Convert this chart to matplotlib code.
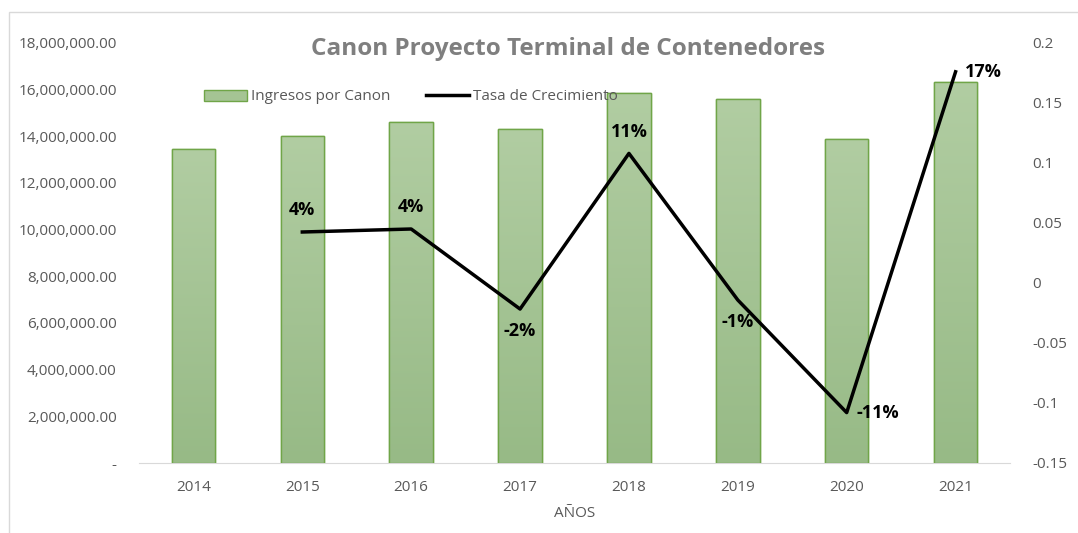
import matplotlib
matplotlib.use("Agg")
import matplotlib.pyplot as plt
import numpy as np
from matplotlib.ticker import FuncFormatter, MultipleLocator
from matplotlib.patches import Rectangle
from matplotlib.lines import Line2D
from matplotlib.colors import LinearSegmentedColormap

years = ["2014", "2015", "2016", "2017", "2018", "2019", "2020", "2021"]
ingresos = [13440000, 14000000, 14630000, 14310000, 15850000, 15610000, 13890000, 16320000]
growth_years = ["2015", "2016", "2017", "2018", "2019", "2020", "2021"]
tasa = [0.0425, 0.045, -0.0217, 0.108, -0.0142, -0.108, 0.176]
tasa_labels = ["4%", "4%", "-2%", "11%", "-1%", "-11%", "17%"]

plt.rcParams['font.family'] = ['Open Sans', 'DejaVu Sans']
GRAY = "#7f7f7f"
TICK = "#595959"

fig = plt.figure(figsize=(10.78, 5.33), dpi=100)
fig.patches.append(Rectangle((9/1078, -0.1), 1.2, 1 - 12/533 + 0.1, transform=fig.transFigure,
                             fill=False, edgecolor="#d9d9d9", linewidth=1.0))
ax = fig.add_axes([139/1078, 1 - 463/533, (1010 - 139)/1078, (463 - 43)/533])
ax2 = ax.twinx()

x = np.arange(len(years))
bars = ax.bar(x, ingresos, width=0.4, color="#a5c494", edgecolor="#70a548", linewidth=1.0, zorder=2)
cmap = LinearSegmentedColormap.from_list("g", ["#97ba86", "#b1cda2"])
grad = np.linspace(0, 1, 256).reshape(-1, 1)
for b in bars:
    bx, by = b.get_x(), b.get_y()
    w, h = b.get_width(), b.get_height()
    im = ax.imshow(grad, cmap=cmap, origin="lower", aspect="auto",
                   extent=[bx, bx + w, by, by + h], zorder=2.5)
    im.set_clip_path(b)
    ax.add_patch(Rectangle((bx, by), w, h, fill=False, edgecolor="#70a548", linewidth=1.0, zorder=3))

ax.set_xlim(-0.5, len(years) - 0.5)
ax.set_ylim(0, 18000000)
ax.yaxis.set_major_locator(MultipleLocator(2000000))
ax.yaxis.set_major_formatter(FuncFormatter(lambda v, p: "-" if v == 0 else f"{v:,.2f}"))
ax.set_xticks(x)
ax.set_xticklabels(years)

gx = [years.index(y) for y in growth_years]
ax2.plot(gx, tasa, color="black", linewidth=2.5, zorder=5)
ax2.set_ylim(-0.15, 0.2)
ax2.yaxis.set_major_locator(MultipleLocator(0.05))
ax2.yaxis.set_major_formatter(FuncFormatter(lambda v, p: f"{round(v, 2):g}"))

placements = ["above", "above", "below", "above", "below", "right", "right"]
for xi, v, lab, pl in zip(gx, tasa, tasa_labels, placements):
    if pl == "above":
        ax2.annotate(lab, (xi, v), xytext=(0, 9), textcoords="offset points",
                     ha="center", va="bottom", fontsize=13, fontweight="bold", color="black")
    elif pl == "below":
        ax2.annotate(lab, (xi, v), xytext=(0, -9), textcoords="offset points",
                     ha="center", va="top", fontsize=13, fontweight="bold", color="black")
    else:
        ax2.annotate(lab, (xi, v), xytext=(7, 0), textcoords="offset points",
                     ha="left", va="center", fontsize=13, fontweight="bold", color="black")

for a in (ax, ax2):
    for s in ("top", "left", "right"):
        a.spines[s].set_visible(False)
    a.spines["bottom"].set_color("#d9d9d9")
    a.tick_params(length=0, colors=TICK, labelsize=11)
ax2.spines["bottom"].set_visible(False)
ax.tick_params(axis="y", pad=16)
ax.tick_params(axis="x", pad=12)
ax2.tick_params(axis="y", pad=16)

ax.set_xlabel("AÑOS", color=TICK, fontsize=11, labelpad=8)
fig.text(568/1078, 1 - 49/533, "Canon Proyecto Terminal de Contenedores", ha="center", va="center",
         fontsize=17.5, fontweight="bold", color=GRAY)

handles = [Rectangle((0, 0), 1, 1, facecolor="#a5c494", edgecolor="#70a548", linewidth=1.0),
           Line2D([0], [0], color="black", linewidth=2.5)]
fig.legend(handles, ["Ingresos por Canon", "Tasa de Crecimiento"], loc="center",
           bbox_to_anchor=(411/1078, 1 - 97/533), ncol=2, frameon=False, fontsize=11,
           labelcolor=TICK, handlelength=2.8, handletextpad=0.3, columnspacing=2.3)

fig.savefig("out.png", dpi=100)
